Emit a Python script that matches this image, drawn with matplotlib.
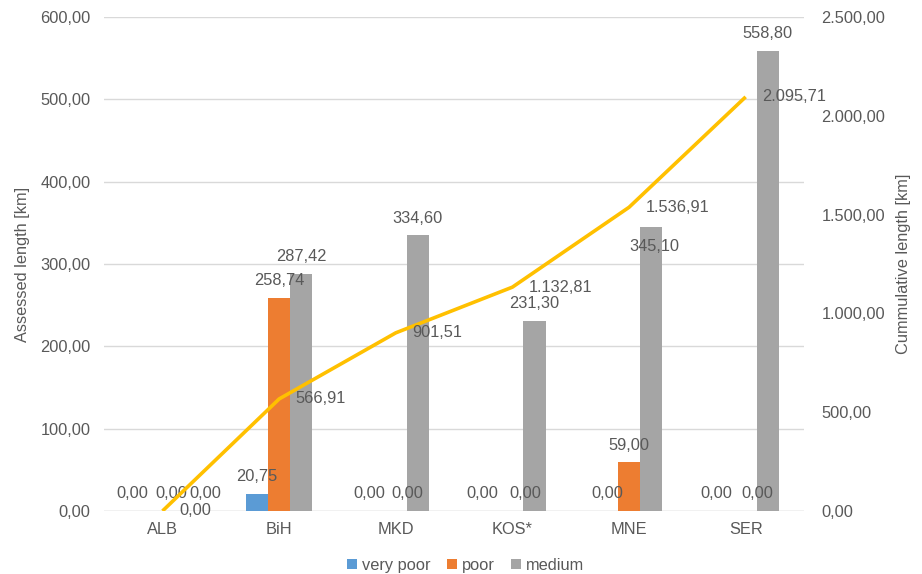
import numpy as np
import matplotlib.pyplot as plt

plt.rcParams['font.family'] = ['Liberation Sans', 'DejaVu Sans']

# Assessed road length per condition class and running total
countries = ['ALB', 'BiH', 'MKD', 'KOS*', 'MNE', 'SER']
very_poor = [0.00, 20.75, 0.00, 0.00, 0.00, 0.00]
poor = [0.00, 258.74, 0.00, 0.00, 59.00, 0.00]
medium = [0.00, 287.42, 334.60, 231.30, 345.10, 558.80]
cumulative = [0.00, 566.91, 901.51, 1132.81, 1536.91, 2095.71]

series_names = ['very poor', 'poor', 'medium']
colors = ['#5B9BD5', '#ED7D31', '#A5A5A5']
line_color = '#FFC000'
text_color = '#595959'
grid_color = '#D9D9D9'


def fmt(v):
    # 1.234,56 style numbers
    s = f"{v:,.2f}"
    return s.replace(',', 'X').replace('.', ',').replace('X', '.')


fig = plt.figure(figsize=(9.22, 5.74), dpi=100)
ax = fig.add_axes([0.113, 0.1098, 0.759, 0.8606])
ax2 = ax.twinx()

x = np.arange(len(countries))
width = 0.19
offsets = [-width, 0, width]

# nudges for labels that would overlap (series index, category index) -> points
label_nudge = {
    (0, 0): (-5.5, 0), (1, 0): (6, 0), (2, 0): (15, 0),
    (0, 2): (-3, 0), (1, 2): (8.5, 0),
    (0, 3): (-6, 0), (1, 3): (9, 0),
    (0, 5): (-5, 0), (1, 5): (8.5, 0),
    (2, 4): (2, -27),
}

for i, (vals, name, c) in enumerate(zip([very_poor, poor, medium], series_names, colors)):
    ax.bar(x + offsets[i], vals, width, color=c, label=name, zorder=2)
    for j, v in enumerate(vals):
        dx, dy = label_nudge.get((i, j), (0, 0))
        ax.annotate(fmt(v), (x[j] + offsets[i], v), xytext=(dx, 12.5 + dy),
                    textcoords='offset points', ha='center', va='center',
                    fontsize=11.8, color=text_color, zorder=5)

ax2.plot(x, cumulative, color=line_color, lw=2.6, solid_capstyle='butt', zorder=3)
for j, v in enumerate(cumulative):
    ax2.annotate(fmt(v), (x[j], v), xytext=(12, 0), textcoords='offset points',
                 ha='left', va='center', fontsize=11.8, color=text_color)

ax.set_xlim(-0.5, len(countries) - 0.5)
ax.set_ylim(0, 600)
ax2.set_ylim(0, 2500)
ax.set_yticks(np.arange(0, 601, 100))
ax2.set_yticks(np.arange(0, 2501, 500))
ax.set_yticklabels([fmt(t) for t in ax.get_yticks()])
ax2.set_yticklabels([fmt(t) for t in ax2.get_yticks()])
ax.set_xticks(x)
ax.set_xticklabels(countries)

ax.grid(axis='y', color=grid_color, lw=1, zorder=0)
ax.set_axisbelow(True)
for a in (ax, ax2):
    for side in ['top', 'left', 'right', 'bottom']:
        a.spines[side].set_visible(False)
    a.tick_params(length=0, colors=text_color, labelsize=11.8)
ax.axhline(0, color=grid_color, lw=1, zorder=1)
ax.tick_params(axis='y', pad=10)
ax.tick_params(axis='x', pad=8)
ax2.tick_params(axis='y', pad=12.5)

ax.set_ylabel('Assessed length [km]', color=text_color, fontsize=11.8, labelpad=7)
ax2.set_ylabel('Cummulative length [km]', color=text_color, fontsize=11.8, labelpad=8)

handles, labels = ax.get_legend_handles_labels()
fig.legend(handles, labels, loc='center', bbox_to_anchor=(0.505, 0.015), ncol=3,
           frameon=False, fontsize=11.8, handlelength=0.6, handleheight=0.6,
           handletextpad=0.3, columnspacing=1.0, labelcolor=text_color)

fig.savefig('out.png', dpi=100)
